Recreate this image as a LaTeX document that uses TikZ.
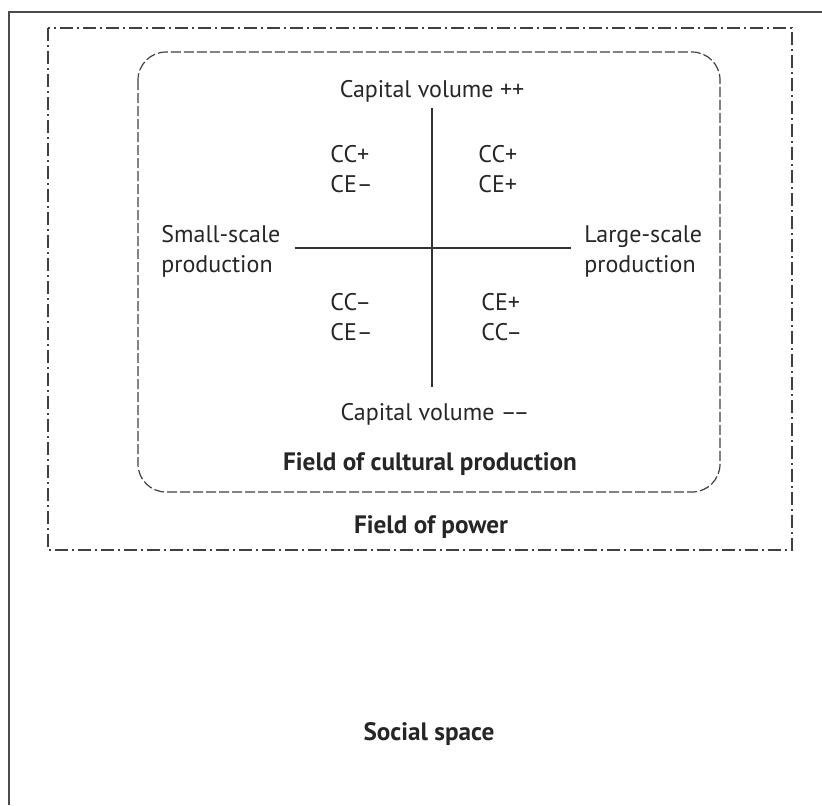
\documentclass[tikz,border=0pt]{standalone}
\usepackage{fontspec}
\setmainfont{PT Sans}
\tikzstyle{txt} = [inner sep=0pt, text=black!85, font=\fontsize{12}{14.8}\selectfont]
\tikzstyle{title} = [inner sep=0pt, text=black!85, font=\bfseries\fontsize{12.6}{14.8}\selectfont]
\tikzstyle{quad} = [txt, align=left, anchor=base west]
\tikzstyle{axis} = [draw=black!80, line width=0.6pt]
\tikzstyle{frame} = [draw=black!70, line width=1pt]
\tikzstyle{power} = [draw=black!75, line width=0.6pt, dash pattern=on 6.5pt off 2pt on 1pt off 2pt]
\tikzstyle{cultural} = [draw=black!75, line width=0.6pt, dash pattern=on 5pt off 1.5pt, rounded corners=14pt]

\begin{document}
\begin{tikzpicture}[x=0.5pt, y=-0.5pt]
\useasboundingbox (0,0) rectangle (822,805);
%外框
\draw[frame] (9,805) -- (9,11.5) -- (822,11.5);
\draw[power] (48,28) rectangle (792,550);
\draw[cultural] (138,52) rectangle (720,492);
%文字
\node[txt, anchor=base](cvtop) at (432,97){Capital volume ++};
\node[txt, anchor=base](cvbot) at (435,420){Capital volume –\kern-1.6pt–};
\node[quad](ul) at (330,192){CC+\\CE–};
\node[quad](ur) at (478,192){CC+\\CE+};
\node[quad](ll) at (330,340){CC–\\CE–};
\node[quad](lr) at (481,340){CE+\\CC–};
\node[quad](small) at (161,272){Small-scale\\production};
\node[quad](large) at (584,272){Large-scale\\production};
\node[title, anchor=base](fcp) at (430,470){Field of cultural production};
\node[title, anchor=base](fop) at (431,533){Field of power};
\node[title, anchor=base](social) at (429,740){Social space};
\coordinate (origin) at (432,248);
%坐标轴
\draw[axis, shorten <=5.5pt, shorten >=16.5pt] (cvtop.base) -- (cvtop.base |- cvbot.base);
\draw[axis, shorten <=7pt, shorten >=6.5pt] (small.east |- origin) -- (large.west |- origin);
\end{tikzpicture}
\end{document}
